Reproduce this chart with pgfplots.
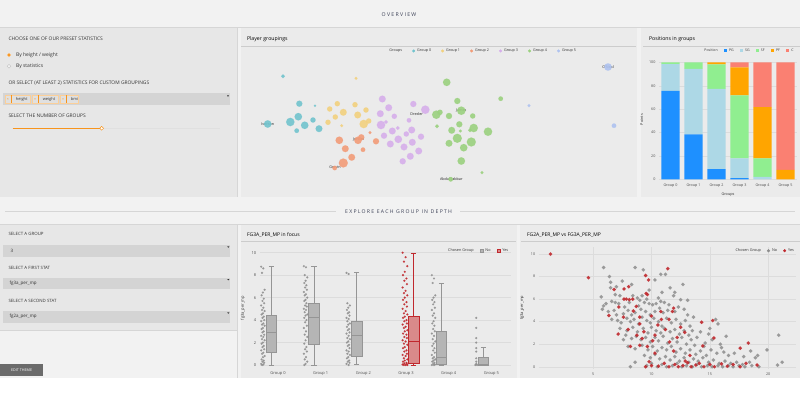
\documentclass[border=0pt]{standalone}
\usepackage{pgfplots}
\pgfplotsset{compat=1.18}
\usepgfplotslibrary{statistics}
\usepackage{fontspec}
\setmainfont{Open Sans}
\newfontfamily\spaced[LetterSpace=25]{Open Sans}
\newcommand{\fs}[1]{\fontsize{#1}{#1}\selectfont}
\definecolor{pagebg}{HTML}{F2F2F2}
\definecolor{headbg}{HTML}{F2F2F2}
\definecolor{panelbg}{HTML}{EBEBEB}
\definecolor{leftbg}{HTML}{E7E7E7}
\definecolor{inputbg}{HTML}{D4D4D4}
\definecolor{tagbg}{HTML}{E0E0E0}
\definecolor{lineg}{HTML}{D6D6D6}
\definecolor{txt}{HTML}{333333}
\definecolor{head}{HTML}{3A3F55}
\definecolor{orng}{HTML}{F7941D}
\definecolor{btn}{HTML}{6B6B6B}
\definecolor{gzero}{HTML}{72C4CE}
\definecolor{gone}{HTML}{F2D17E}
\definecolor{gtwo}{HTML}{F29C78}
\definecolor{gthree}{HTML}{D6AFEA}
\definecolor{gfour}{HTML}{9BD17F}
\definecolor{gfive}{HTML}{AFC3F0}
\definecolor{pg}{HTML}{1E90FF}
\definecolor{sg}{HTML}{ADD8E6}
\definecolor{sf}{HTML}{90EE90}
\definecolor{pf}{HTML}{FFA500}
\definecolor{cc}{HTML}{FA8072}
\definecolor{boxno}{HTML}{B5B5B5}
\definecolor{boxnod}{HTML}{959595}
\definecolor{boxyes}{HTML}{D98A8A}
\definecolor{boxyesd}{HTML}{C0282D}
\definecolor{ptno}{HTML}{8E8E8E}
\definecolor{ptyes}{HTML}{C0282D}
\definecolor{gridc}{HTML}{DCDCDC}
\definecolor{tickc}{HTML}{4D4D4D}
\tikzset{lab/.style={font=\fs{3.7}, text=black!85, inner sep=0.5pt}}
\pgfplotsset{
  /pgf/number format/assume math mode=true,
  every axis/.append style={
    tick label style={font=\fs{4}, text=tickc},
    label style={font=\fs{4}, text=txt},
    legend style={draw=none, fill=none, font=\fs{3.8}, text=txt, inner sep=0pt, outer sep=0pt,
      /tikz/every even column/.append style={column sep=4pt}},
    legend cell align=left, legend columns=-1},
  bub/.style={scatter, only marks, mark=*, forget plot,
    scatter/use mapped color={draw=#1, fill=#1, fill opacity=0.9, draw opacity=0.4},
    visualization depends on={1.12*\thisrow{r}\as\rr},
    scatter/@pre marker code/.append style={/tikz/mark size=\rr}},
  plain/.style={axis line style={draw=none}, tick style={draw=none}, grid style={gridc, line width=0.35pt}}
}
\newcommand{\sqleg}[1]{\addlegendimage{legend image code/.code={\filldraw[#1] (0pt,-1.7pt) rectangle (3.4pt,1.7pt);}}}
\newcommand{\dotleg}[1]{\addlegendimage{legend image code/.code={\fill[#1] (1.4pt,0pt) circle (1.3pt);}}}
\begin{document}
\begin{tikzpicture}[x=1pt,y=1pt]
\path[use as bounding box] (0,0) rectangle (800,409);
\fill[white] (0,0) rectangle (800,409);
\begin{scope}[shift={(0,409)},yscale=-1]
\fill[pagebg] (0,0) rectangle (800,378.5);
\fill[lineg] (0,27) rectangle (800,28);
\node[text=head] at (399,15) {\spaced\fs{5.2}OVERVIEW};
% top panels
\fill[leftbg] (0,28) rectangle (237,197);
\draw[lineg] (237.3,28) -- (237.3,197);
\fill[panelbg] (240.5,28) rectangle (637,197);
\fill[panelbg] (640.5,28) rectangle (800,197);
% left top controls
\node[anchor=west, text=txt] at (5,39) {\fs{4.9}CHOOSE ONE OF OUR PRESET STATISTICS};
\filldraw[fill=orng, draw=orng!50] (9,55) circle (1.9);
\node[anchor=west, text=txt] at (12.5,55) {\fs{5}By height / weight};
\filldraw[fill=pagebg, draw=black!25, line width=0.3] (9,66.3) circle (1.9);
\node[anchor=west, text=txt] at (12.5,66.3) {\fs{5}By statistics};
\node[anchor=west, text=txt] at (5,82.7) {\fs{4.9}OR SELECT (AT LEAST 2) STATISTICS FOR CUSTOM GROUPINGS};
\fill[inputbg] (3.3,93.3) rectangle (230,105);
\fill[txt] (227,95.5) -- (229,95.5) -- (228,96.8) -- cycle;
\filldraw[fill=tagbg, draw=orng!45, line width=0.3] (4.7,95.3) rectangle (30,103);
\draw[orng, line width=0.5] (11.7,95.3) -- (11.7,103);
\node[text=orng] at (8,99.2) {\fs{3.5}×};
\node[anchor=west, text=txt] at (12.3,99.2) {\fs{4}height};
\filldraw[fill=tagbg, draw=orng!45, line width=0.3] (31.7,95.3) rectangle (57.7,103);
\draw[orng, line width=0.5] (38.7,95.3) -- (38.7,103);
\node[text=orng] at (35,99.2) {\fs{3.5}×};
\node[anchor=west, text=txt] at (39.3,99.2) {\fs{4}weight};
\filldraw[fill=tagbg, draw=orng!45, line width=0.3] (59.7,95.3) rectangle (78.3,103);
\draw[orng, line width=0.5] (66.7,95.3) -- (66.7,103);
\node[text=orng] at (63,99.2) {\fs{3.5}×};
\node[anchor=west, text=txt] at (67.3,99.2) {\fs{4}bmi};
\node[anchor=west, text=txt] at (5,116) {\fs{4.9}SELECT THE NUMBER OF GROUPS};
\draw[black!12, line width=0.6] (101.7,128.3) -- (220,128.3);
\draw[orng, line width=0.8] (12.7,128.3) -- (101.7,128.3);
\filldraw[fill=white, draw=orng, line width=0.5] (101.7,128.3) circle (1.9);
% panel titles
\node[anchor=west, text=black] at (243.5,39.3) {\fs{5.2}Player groupings};
\draw[black!20, line width=0.5] (241,46.7) -- (636,46.7);
\node[anchor=west, text=black] at (645.5,39.3) {\fs{5.2}Positions in groups};
\draw[black!20, line width=0.5] (643,46.7) -- (800,46.7);
% section
\draw[lineg,line width=0.6] (5,211.4) -- (336,211.4);
\draw[lineg,line width=0.6] (460,211.4) -- (795,211.4);
\node[text=head] at (398.6,211.4) {\spaced\fs{5.1}EXPLORE EACH GROUP IN DEPTH};
\draw[lineg,line width=0.6] (0,224.6) -- (800,224.6);
% bottom panels
\fill[leftbg] (0,225) rectangle (237,330);
\draw[lineg] (0,330) -- (237,330);
\draw[lineg] (237.3,225) -- (237.3,378.5);
\fill[panelbg] (240.5,225) rectangle (517,378.5);
\fill[panelbg] (520,225) rectangle (800,378.5);
\node[anchor=west, text=txt] at (5,234) {\fs{4.4}SELECT A GROUP};
\fill[inputbg] (3.3,245) rectangle (230,256.7);
\fill[txt] (227.3,246.5) -- (229.3,246.5) -- (228.3,247.8) -- cycle;
\node[anchor=west, text=txt] at (7,250.8) {\fs{4.5}3};
\node[anchor=west, text=txt] at (5,267.7) {\fs{4.4}SELECT A FIRST STAT};
\fill[inputbg] (3.3,277.7) rectangle (230,289.3);
\fill[txt] (227.3,279.2) -- (229.3,279.2) -- (228.3,280.5) -- cycle;
\node[anchor=west, text=txt] at (6,283.5) {\fs{4.5}fg3a\_per\_mp};
\node[anchor=west, text=txt] at (5,300.7) {\fs{4.4}SELECT A SECOND STAT};
\fill[inputbg] (3.3,311) rectangle (230,322.7);
\fill[txt] (227.3,312.5) -- (229.3,312.5) -- (228.3,313.8) -- cycle;
\node[anchor=west, text=txt] at (6,316.8) {\fs{4.5}fg2a\_per\_mp};
\fill[btn] (0,364) rectangle (43.3,375.7);
\node[text=white] at (21.6,369.9) {\fs{3.7}EDIT THEME};
\node[anchor=west, text=black] at (243.5,235) {\fs{5}FG3A\_PER\_MP in focus};
\draw[black!20, line width=0.5] (241,241) -- (516,241);
\node[anchor=west, text=black] at (523.5,235) {\fs{5}FG2A\_PER\_MP vs FG3A\_PER\_MP};
\draw[black!20, line width=0.5] (521,241) -- (800,241);
\end{scope}

% ---------------- bubble chart ----------------
\begin{axis}[at={(241pt,213pt)}, anchor=south west, scale only axis, width=395pt, height=148pt,
  xmin=241, xmax=636, ymin=48, ymax=196, y dir=reverse, hide axis, clip=false,
  legend style={at={(0.612,0.98)}, anchor=center, font=\fs{3.7},
    /tikz/every even column/.append style={column sep=8pt}}]
\addplot[bub=gzero] table {
x y r
283 76.3 1.7
299.3 103.7 2.7
315 105.7 1.0
298.3 116.7 3.3
290.3 122 3.7
304.7 125.3 3.3
313 120 2.3
296.7 130.7 2
319 128.7 3
267.7 124 3.3
};
\addplot[bub=gone] table {
x y r
356 78.3 1.3
329.7 109 2.3
337.3 103.7 2.3
355 104.7 2.3
343.3 112.3 3
335.3 117 2.3
357.7 115 3
366 110 2.3
328 122.3 2.3
341.7 125.7 1.3
363.7 124 3.7
368.7 121 2.3
};
\addplot[bub=gtwo] table {
x y r
339.3 140.3 3.3
361.3 137.3 2.7
358 140.3 3.3
370 132.7 1.3
376 141.3 2.7
345.3 148.7 3
363 149.7 2
351.7 157.3 3
343.3 163 4
334.7 168 2
};
\addplot[bub=gthree] table {
x y r
382.3 99 3
388.7 107.7 3
413.3 104 2.7
425.3 109.7 3.7
380.3 113.7 3
394.3 116.3 2.3
409 120.3 2
381 125 3.7
386 122 1.7
397.7 128 1.7
392.3 131 3
411.7 130 3
406.3 134 2.3
384 135.7 2.7
421 136.7 2.7
398.3 139.3 3.3
390.3 144 3
412.3 142.3 3
404 147 3
418.7 151 3
410.3 156.3 3
402.7 161.3 2.7
};
\addplot[bub=gfour] table {
x y r
446.7 82.3 3.3
457.3 101 2.7
500.7 98.7 2
461.3 110.7 3.7
436.3 114.7 3.7
440 112.3 2.3
449 116 2.7
472.7 116 2.3
459.3 124.3 2.7
437 126.3 1.7
473.7 128 3.7
451.7 130.3 3
470 130.3 1.7
488 131.7 3.7
457.3 138.3 4
471.3 142 4
449 143.3 3
463.7 147.7 3.3
461.3 161 3.3
482 172.7 1.3
450.7 179.3 2
460.3 131 1.3
};
\addplot[bub=gfive] table {
x y r
608 67 3.3
529 105.7 1.3
614 125.7 2
};
\node[lab] at (axis cs:267.7,124) {Iverson};
\node[lab] at (axis cs:358.7,139.7) {Jordan};
\node[lab] at (axis cs:335,167.3) {Gervin};
\node[lab] at (axis cs:416.7,114.3) {Drexler};
\node[lab] at (axis cs:461.3,110.3) {James};
\node[lab] at (axis cs:451.3,179.3) {Abdul-Jabbar};
\node[lab] at (axis cs:608,67) {O'Neal};
\addlegendimage{empty legend}\addlegendentry{Groups}
\dotleg{gzero}\addlegendentry{Group 0}
\dotleg{gone}\addlegendentry{Group 1}
\dotleg{gtwo}\addlegendentry{Group 2}
\dotleg{gthree}\addlegendentry{Group 3}
\dotleg{gfour}\addlegendentry{Group 4}
\dotleg{gfive}\addlegendentry{Group 5}
\end{axis}

% ---------------- stacked bars ----------------
\begin{axis}[at={(659pt,228.5pt)}, anchor=south west, scale only axis, width=138pt, height=121.7pt,
  plain, xmin=-0.5, xmax=5.5, ymin=-1, ymax=103, ybar stacked, bar width=18.3pt,
  xtick={0,...,5}, xticklabels={Group 0,Group 1,Group 2,Group 3,Group 4,Group 5},
  ytick={0,20,40,60,80,100}, ymajorgrids,
  tick label style={font=\fs{3.7}},
  xlabel={Groups}, ylabel={Points}, label style={font=\fs{3.8}},
  xlabel style={yshift=2pt}, ylabel style={yshift=-1pt},
  legend style={at={(0.99,1.067)}, anchor=east, font=\fs{3.5}}]
\addlegendimage{empty legend}\addlegendentry{Position}
\addplot[fill=pg, draw=none, legend image code/.code={\fill[pg] (0pt,-1.7pt) rectangle (3.4pt,1.7pt);}] coordinates {(0,75.5) (1,38.5) (2,8.8) (3,1.1) (4,0) (5,0)};
\addlegendentry{PG}
\addplot[fill=sg, draw=none, legend image code/.code={\fill[sg] (0pt,-1.7pt) rectangle (3.4pt,1.7pt);}] coordinates {(0,23) (1,55.8) (2,68.4) (3,16.9) (4,2) (5,0)};
\addlegendentry{SG}
\addplot[fill=sf, draw=none, legend image code/.code={\fill[sf] (0pt,-1.7pt) rectangle (3.4pt,1.7pt);}] coordinates {(0,1.5) (1,5.7) (2,21.1) (3,53.8) (4,16) (5,0)};
\addlegendentry{SF}
\addplot[fill=pf, draw=none, legend image code/.code={\fill[pf] (0pt,-1.7pt) rectangle (3.4pt,1.7pt);}] coordinates {(0,0) (1,0) (2,1.7) (3,23.9) (4,43.8) (5,8)};
\addlegendentry{PF}
\addplot[fill=cc, draw=none, legend image code/.code={\fill[cc] (0pt,-1.7pt) rectangle (3.4pt,1.7pt);}] coordinates {(0,0) (1,0) (2,0) (3,4.3) (4,38.2) (5,92)};
\addlegendentry{C}
\end{axis}

% ---------------- box plot ----------------
\begin{axis}[at={(259.7pt,40.6pt)}, anchor=south west, scale only axis, width=251.3pt, height=120.8pt,
  plain, xmin=-0.43, xmax=5.46, ymin=-0.3, ymax=10.45,
  xtick={0,...,5}, xticklabels={Group 0,Group 1,Group 2,Group 3,Group 4,Group 5},
  ytick={0,2,4,6,8,10}, ymajorgrids, ylabel={fg3a\_per\_mp},
  boxplot/draw direction=y,
  legend style={at={(0.997,0.974)}, anchor=east}]
\addplot[forget plot, only marks, mark=*, mark size=0.95, color=ptno, mark options={fill opacity=0.85, draw opacity=0.6}] table {
x y
-0.395 8.75
-0.345 8.6
-0.375 8.2
-0.315 6.7
-0.355 6.45
-0.385 6.2
-0.335 5.9
-0.365 5.7
-0.325 5.5
-0.395 5.3
-0.345 5.1
-0.375 4.9
-0.315 4.8
-0.355 4.6
-0.385 4.5
-0.335 4.3
-0.365 4.2
-0.325 4.0
-0.395 3.9
-0.345 3.7
-0.375 3.6
-0.315 3.5
-0.355 3.3
-0.385 3.2
-0.335 3.0
-0.365 2.9
-0.325 2.7
-0.395 2.6
-0.345 2.5
-0.375 2.3
-0.315 2.2
-0.355 2.0
-0.385 1.9
-0.335 1.7
-0.365 1.6
-0.325 1.4
-0.395 1.3
-0.345 1.1
-0.375 1.0
-0.315 0.8
-0.355 0.7
-0.385 0.5
-0.335 0.4
-0.365 0.3
-0.325 0.2
-0.395 0.1
-0.345 0.05
-0.375 0
0.605 8.8
0.655 8.7
0.625 8.0
0.685 7.8
0.645 7.5
0.615 7.3
0.665 7.1
0.635 6.9
0.675 6.7
0.605 6.5
0.655 6.3
0.625 6.2
0.685 6.0
0.645 5.8
0.615 5.7
0.665 5.5
0.635 5.3
0.675 5.2
0.605 5.0
0.655 4.9
0.625 4.7
0.685 4.5
0.645 4.4
0.615 4.2
0.665 4.0
0.635 3.8
0.675 3.5
0.605 3.3
0.655 3.0
0.625 2.7
0.685 2.5
0.645 2.2
0.615 1.9
0.665 1.6
0.635 1.4
0.675 1.2
0.605 1.0
0.655 0.7
0.625 0.5
0.685 0.3
0.645 0.1
0.615 0
1.605 8.2
1.655 8.1
1.625 5.5
1.685 5.3
1.645 5.1
1.615 4.9
1.665 4.7
1.635 4.6
1.675 4.4
1.605 4.2
1.655 4.1
1.625 3.9
1.685 3.7
1.645 3.6
1.615 3.4
1.665 3.2
1.635 3.1
1.675 2.9
1.605 2.8
1.655 2.6
1.625 2.4
1.685 2.3
1.645 2.1
1.615 2.0
1.665 1.8
1.635 1.7
1.675 1.5
1.605 1.3
1.655 1.2
1.625 1.0
1.685 0.9
1.645 0.7
1.615 0.6
1.665 0.4
1.635 0.3
1.675 0.2
1.605 0.1
1.655 0
3.605 8.0
3.655 7.7
3.625 7.3
3.685 6.2
3.645 6.0
3.615 5.8
3.665 5.6
3.635 5.4
3.675 5.1
3.605 4.9
3.655 4.6
3.625 4.4
3.685 4.2
3.645 3.9
3.615 3.7
3.665 3.5
3.635 3.2
3.675 3.0
3.605 2.8
3.655 2.6
3.625 2.3
3.685 2.1
3.645 1.9
3.615 1.7
3.665 1.5
3.635 1.3
3.675 1.1
3.605 0.9
3.655 0.7
3.625 0.6
3.685 0.5
3.645 0.4
3.615 0.3
3.665 0.2
3.635 0.1
3.675 0.05
3.605 0
3.655 0
4.645 4.2
4.645 3.3
4.645 2.4
4.645 2.0
4.645 1.5
4.645 1.2
4.645 0.6
4.645 0.3
4.645 0.1
4.625 0
4.665 0
};
\addplot[forget plot, only marks, mark=*, mark size=0.95, color=ptyes, mark options={fill opacity=0.9, draw opacity=0.6}] table {
x y
2.92 10.0
2.99 9.6
2.95 9.2
3.03 8.8
2.97 8.3
2.93 8.0
3.01 7.7
2.96 7.5
3.02 7.2
2.92 6.9
2.99 6.6
2.95 6.4
3.03 6.2
2.97 6.0
2.93 5.8
3.01 5.6
2.96 5.4
3.02 5.2
2.92 5.0
2.99 4.8
2.95 4.6
3.03 4.5
2.97 4.3
2.93 4.2
3.01 4.0
2.96 3.9
3.02 3.7
2.92 3.6
2.99 3.4
2.95 3.3
3.03 3.1
2.97 3.0
2.93 2.8
3.01 2.7
2.96 2.5
3.02 2.4
2.92 2.2
2.99 2.1
2.95 1.9
3.03 1.8
2.97 1.6
2.93 1.5
3.01 1.3
2.96 1.2
3.02 1.0
2.92 0.9
2.99 0.8
2.95 0.6
3.03 0.5
2.97 0.4
2.93 0.3
3.01 0.2
2.96 0.15
3.02 0.1
2.92 0.05
2.99 0
2.95 0
3.03 0
};
\addplot[forget plot, boxplot prepared={lower whisker=0, lower quartile=1.13, median=2.91, upper quartile=4.42, upper whisker=8.75, draw position=-0.157, box extend=0.25, whisker extend=0.12}, fill=boxno, draw=boxnod, line width=0.45pt] coordinates {};
\addplot[forget plot, boxplot prepared={lower whisker=0, lower quartile=1.84, median=4.21, upper quartile=5.49, upper whisker=8.75, draw position=0.843, box extend=0.25, whisker extend=0.12}, fill=boxno, draw=boxnod, line width=0.45pt] coordinates {};
\addplot[forget plot, boxplot prepared={lower whisker=0.05, lower quartile=0.74, median=2.67, upper quartile=3.92, upper whisker=8.22, draw position=1.843, box extend=0.25, whisker extend=0.12}, fill=boxno, draw=boxnod, line width=0.45pt] coordinates {};
\addplot[forget plot, boxplot prepared={lower whisker=0, lower quartile=0.18, median=2.11, upper quartile=4.33, upper whisker=9.94, draw position=3.173, box extend=0.25, whisker extend=0.12}, fill=boxyes, draw=boxyesd, line width=0.45pt] coordinates {};
\addplot[forget plot, boxplot prepared={lower whisker=0, lower quartile=0.03, median=0.68, upper quartile=3.0, upper whisker=7.27, draw position=3.827, box extend=0.25, whisker extend=0.12}, fill=boxno, draw=boxnod, line width=0.45pt] coordinates {};
\addplot[forget plot, boxplot prepared={lower whisker=0, lower quartile=0, median=0.03, upper quartile=0.68, upper whisker=1.6, draw position=4.812, box extend=0.25, whisker extend=0.12}, fill=boxno, draw=boxnod, line width=0.45pt] coordinates {};
\addlegendimage{empty legend}\addlegendentry{Chosen Group}
\sqleg{fill=boxno, draw=boxnod, line width=0.4pt}\addlegendentry{No}
\sqleg{fill=boxyes, draw=boxyesd, line width=0.4pt}\addlegendentry{Yes}
\end{axis}

% ---------------- scatter ----------------
\begin{axis}[at={(538.7pt,40pt)}, anchor=south west, scale only axis, width=257.6pt, height=122.3pt,
  plain, xmin=0.34, xmax=22.41, ymin=-0.2, ymax=10.65,
  xtick={5,10,15,20}, ytick={0,2,4,6,8,10}, grid=major, ylabel={fg3a\_per\_mp},
  tick label style={font=\fs{3.7}},
  legend style={at={(0.999,0.967)}, anchor=east}]
\addplot[forget plot, only marks, mark=*, mark size=1.7, color=ptno, mark options={fill opacity=0.85, draw opacity=0.5}] table {
x y
5.9 8.8
8.6 8.8
9.3 8.6
10.8 8.2
11.2 8.2
6.4 8.0
10.3 7.7
7.5 7.6
6.5 7.5
8.3 7.3
12.7 7.3
6.5 7.0
7.0 7.1
5.7 6.2
10.9 6.6
11.9 6.3
12.5 5.95
13.1 5.9
5.8 5.1
6.6 5.8
6.9 5.7
7.2 5.6
8.8 6.1
9.0 5.9
9.4 5.7
9.6 6.0
9.2 6.3
9.8 5.6
10.1 5.5
10.4 5.6
10.8 5.8
11.1 5.7
11.5 5.5
6.8 5.0
6.3 4.9
7.0 4.6
7.6 4.7
8.0 5.0
8.3 4.6
8.6 4.8
9.1 5.1
9.5 4.9
9.9 4.6
10.3 4.9
10.7 5.2
11.0 4.8
11.4 5.0
12.0 4.9
12.3 5.3
12.8 5.1
6.6 4.2
7.1 4.1
7.4 3.9
7.9 4.3
8.2 4.0
8.5 4.2
8.9 3.8
9.2 4.4
9.6 4.1
9.9 3.9
10.2 4.3
10.6 4.0
10.9 3.6
11.3 4.3
11.7 3.9
12.1 4.2
12.5 3.8
12.9 4.1
13.3 3.6
13.1 4.6
7.3 3.4
7.9 3.2
8.4 3.5
8.8 3.1
9.3 3.4
9.7 3.0
10.0 3.5
10.4 3.2
10.8 3.0
11.1 3.4
11.6 3.1
12.0 3.3
12.4 2.9
12.8 3.2
13.2 2.8
13.5 3.2
14.9 2.9
15.5 4.2
15.7 3.8
16.4 2.7
7.8 2.8
8.3 2.5
8.7 2.7
9.1 2.4
9.5 2.6
9.9 2.2
10.3 2.6
10.6 2.3
11.0 2.7
11.4 2.1
11.8 2.5
12.2 2.2
12.6 2.6
13.0 2.0
13.4 2.4
14.6 2.1
15.2 2.4
15.9 2.0
8.0 1.8
8.6 1.6
9.2 1.9
9.7 1.5
10.1 1.8
10.5 1.4
10.9 1.7
11.3 1.5
11.7 1.8
12.1 1.3
12.5 1.6
12.9 1.2
13.3 1.5
13.8 1.1
14.2 1.4
14.7 1.0
15.1 1.5
15.6 1.2
16.2 1.3
16.6 1.0
9.4 1.0
9.9 0.8
10.3 1.1
10.7 0.7
11.2 0.9
11.6 0.6
12.0 0.9
12.4 0.5
12.8 0.8
13.2 0.4
13.6 0.7
14.0 0.5
14.4 0.8
14.9 0.4
15.3 0.6
15.8 0.3
16.3 0.5
16.8 0.3
17.3 0.4
17.8 0.2
18.4 0.4
19.1 1.0
18.9 0.8
19.9 1.5
20.9 2.8
21.2 0.4
20.8 0.15
8.2 0.0
9.6 0.1
10.0 0.3
10.5 0.0
10.9 0.2
11.3 0.0
11.8 0.1
12.2 0.3
12.6 0.0
13.0 0.1
13.5 0.0
13.9 0.2
14.3 0.0
14.8 0.1
15.2 0.0
15.7 0.1
16.1 0.0
16.6 0.1
17.0 0.0
17.5 0.1
18.0 0.0
18.6 0.1
19.2 0.0
7.6 2.4
8.6 0.4
6.1 5.6
5.9 5.4
7.7 5.3
8.1 5.7
8.9 5.4
13.6 4.4
14.2 3.1
13.9 2.6
8.4 6.3
9.8 6.8
7.3 6.3
10.6 6.1
12.0 6.6
11.6 7.0
6.9 6.4
15.0 3.4
16.0 1.7
17.1 1.2
17.9 0.9
18.5 1.4
14.5 1.8
13.7 1.9
};
\addplot[forget plot, only marks, mark=*, mark size=1.7, color=ptyes, mark options={fill opacity=0.9, draw opacity=0.5}] table {
x y
1.35 10.0
4.6 7.9
9.5 8.1
11.4 8.7
9.75 7.7
6.8 6.85
7.65 6.9
8.05 7.1
7.65 6.0
7.85 6.0
8.1 5.95
8.4 6.0
9.55 6.5
9.65 6.4
7.2 5.3
6.35 4.55
8.7 5.35
8.45 4.95
11.8 4.9
11.9 5.2
11.5 4.2
10.85 4.2
10.55 3.7
14.3 3.95
15.25 4.1
7.15 2.9
8.75 2.8
9.35 3.1
10.3 2.8
11.55 2.2
8.2 1.8
9.0 1.9
9.65 1.8
12.85 3.05
14.4 1.85
15.35 2.55
17.6 1.65
18.3 2.1
19.05 0.15
9.5 0.0
10.0 0.1
10.6 0.05
11.1 0.3
11.5 0.0
12.0 0.2
12.3 0.0
12.7 0.1
13.1 0.35
13.4 0.0
13.8 0.15
14.1 0.3
14.5 0.0
15.0 0.2
15.4 0.0
16.0 0.25
16.5 0.05
17.0 0.2
17.6 0.0
18.1 0.3
9.8 0.45
12.9 0.5
10.3 1.2
11.9 1.4
13.3 1.0
10.1 2.3
11.2 3.3
12.2 2.6
9.0 3.8
10.0 4.5
10.8 4.9
7.6 4.4
8.0 3.3
9.2 2.5
12.5 3.5
9.0 4.4
};
\addlegendimage{empty legend}\addlegendentry{Chosen Group}
\dotleg{ptno}\addlegendentry{No}
\dotleg{ptyes}\addlegendentry{Yes}
\end{axis}
\end{tikzpicture}
\end{document}
